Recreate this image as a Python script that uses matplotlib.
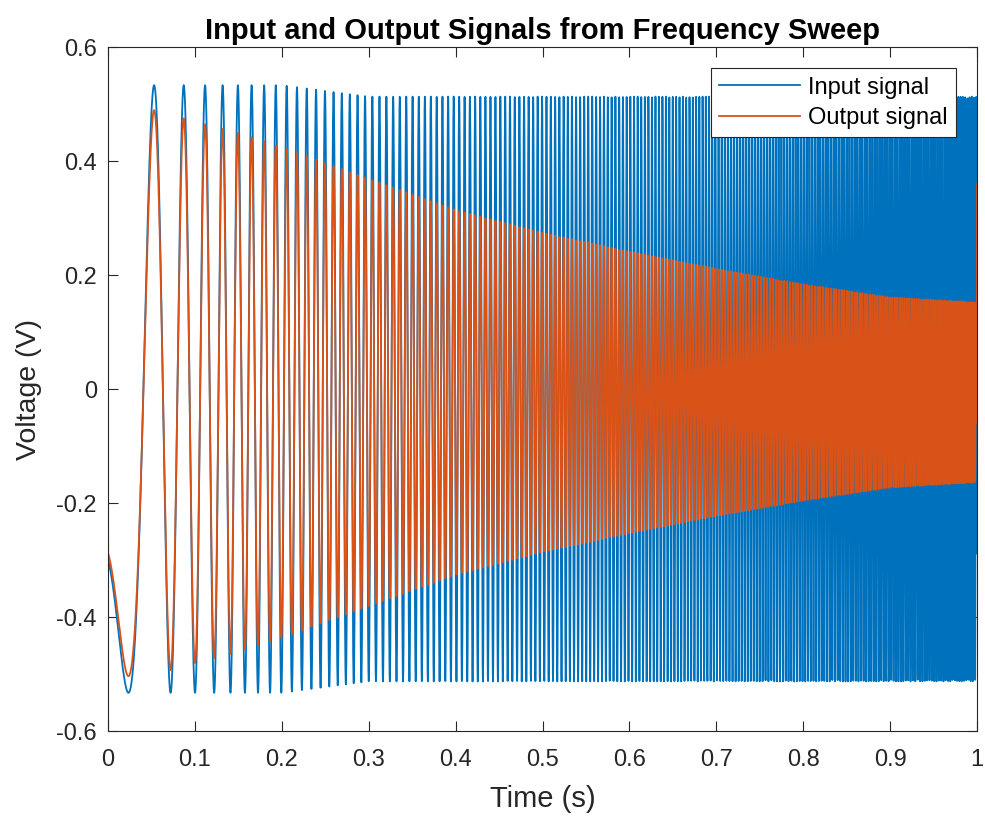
import numpy as np
import matplotlib
matplotlib.use('Agg')
import matplotlib.pyplot as plt
from matplotlib.ticker import FixedLocator

# --- values ---
fs = 10000                     # sample rate of the record (Hz)
t_end = 1.0
f_start, f_end = 2.0, 392.0    # linear sweep, from the spacing of the peaks
phase0 = -0.655                # phase (cycles) at t = 0
# input amplitude, a touch higher in the first cycles
in_amp_t = [0.0, 0.20, 0.30, 1.00]
in_amp_v = [0.533, 0.533, 0.513, 0.513]
# output envelope (upper edge of the orange band)
env_t = [0.0, 0.055, 0.10, 0.15, 0.20, 0.30, 0.40, 0.50, 0.60, 0.70, 0.80, 0.90, 1.00]
env_v = [0.50, 0.495, 0.475, 0.455, 0.43, 0.375, 0.32, 0.28, 0.247, 0.217, 0.19, 0.167, 0.158]
out_offset = -0.006
out_first, out_last = -0.20, 0.36

xticks = [0, 0.1, 0.2, 0.3, 0.4, 0.5, 0.6, 0.7, 0.8, 0.9, 1]
xtick_labels = ['0', '0.1', '0.2', '0.3', '0.4', '0.5', '0.6', '0.7', '0.8', '0.9', '1']
yticks = [-0.6, -0.4, -0.2, 0, 0.2, 0.4, 0.6]
ytick_labels = ['-0.6', '-0.4', '-0.2', '0', '0.2', '0.4', '0.6']

# --- build the sampled signals ---
t = np.arange(0, t_end + 1e-9, 1.0 / fs)
cyc = phase0 + f_start * t + 0.5 * (f_end - f_start) / t_end * t ** 2
in_amp = np.interp(t, in_amp_t, in_amp_v)
x_in = in_amp * np.cos(2 * np.pi * cyc)
env = np.interp(t, env_t, env_v)
y_out = env * np.cos(2 * np.pi * cyc) + out_offset
y_out[0] = out_first
y_out[-1] = out_last

blue = '#0072BD'
orange = '#D95319'
axc = '#262626'

plt.rcParams['font.family'] = ['Liberation Sans', 'DejaVu Sans']

fig = plt.figure(figsize=(9.85, 8.16), dpi=100)
ax = fig.add_axes([108 / 985, 85 / 816, 869 / 985, 684 / 816])

ax.plot(t, x_in, color=blue, lw=1.3, label='Input signal')
ax.plot(t, y_out, color=orange, lw=1.3, label='Output signal')

ax.set_xlim(0, 1)
ax.set_ylim(-0.6, 0.6)
ax.xaxis.set_major_locator(FixedLocator(xticks))
ax.yaxis.set_major_locator(FixedLocator(yticks))
ax.set_xticklabels(xtick_labels)
ax.set_yticklabels(ytick_labels)
ax.tick_params(direction='in', length=7, width=0.8, colors=axc, labelsize=17,
               top=True, right=True)
ax.tick_params(axis='x', pad=13)
ax.tick_params(axis='y', pad=8)
for s in ax.spines.values():
    s.set_color(axc)
    s.set_linewidth(0.8)

ax.set_xlabel('Time (s)', fontsize=21, color=axc, labelpad=10)
ax.set_ylabel('Voltage (V)', fontsize=20.5, color=axc, labelpad=10)
ax.set_title('Input and Output Signals from Frequency Sweep', fontsize=21,
             fontweight='bold', color='black', pad=6,
             family=['Liberation Sans Narrow', 'Liberation Sans', 'DejaVu Sans'])

leg = ax.legend(loc='upper right', fontsize=17, fancybox=False, framealpha=1,
                edgecolor=axc, borderaxespad=0.9, handlelength=3.4,
                handletextpad=0.35, borderpad=0.35, labelspacing=0.35)
leg.get_frame().set_linewidth(0.8)

fig.savefig('out.png', dpi=100)
